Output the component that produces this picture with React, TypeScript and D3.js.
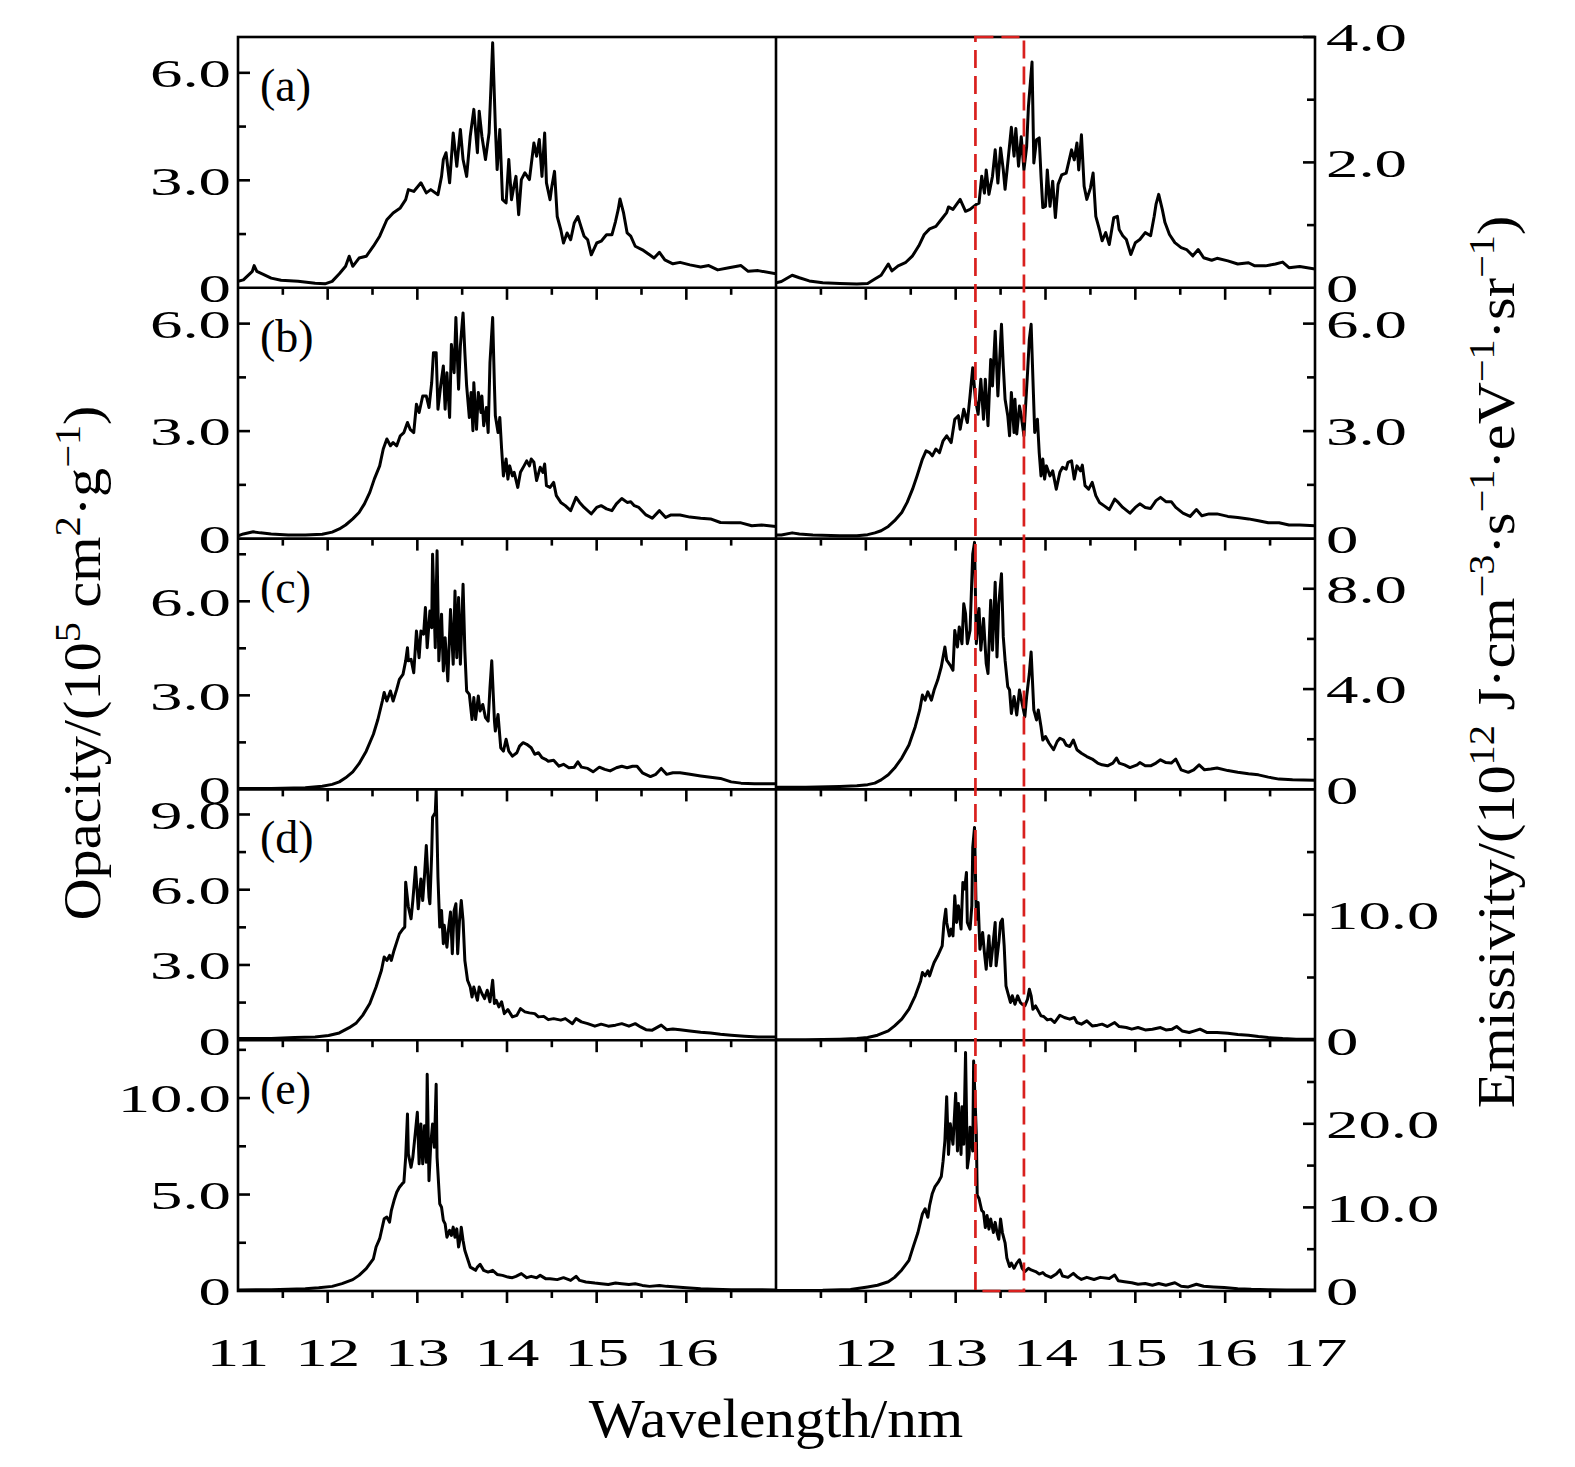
import React from "react";
import * as d3 from "d3";

// wavelength (nm) and opacity (1e5 cm^2/g), left column
const waveOpA = [11.00,11.06,11.16,11.18,11.21,11.27,11.37,11.48,11.67,11.86,11.97,12.05,12.13,12.20,12.24,12.28,12.35,12.43,12.51,12.58,12.66,12.73,12.81,12.87,12.90,12.96,13.04,13.10,13.15,13.23,13.27,13.29,13.32,13.36,13.40,13.44,13.48,13.51,13.55,13.59,13.63,13.67,13.69,13.72,13.76,13.80,13.82,13.84,13.87,13.89,13.92,13.95,13.99,14.02,14.05,14.07,14.10,14.13,14.16,14.20,14.25,14.30,14.33,14.36,14.39,14.42,14.44,14.48,14.50,14.53,14.56,14.60,14.63,14.67,14.71,14.75,14.79,14.83,14.86,14.90,14.94,15.00,15.05,15.11,15.17,15.21,15.24,15.26,15.30,15.34,15.38,15.43,15.51,15.59,15.64,15.70,15.76,15.85,15.93,16.04,16.16,16.25,16.35,16.46,16.61,16.69,16.80,17.00];
const opacityA = [0.18,0.22,0.46,0.62,0.46,0.39,0.27,0.21,0.18,0.13,0.11,0.18,0.39,0.60,0.88,0.60,0.83,0.88,1.16,1.44,1.90,2.09,2.23,2.46,2.74,2.69,2.93,2.65,2.74,2.60,3.11,3.58,3.77,2.93,4.32,3.39,4.42,3.58,3.11,4.23,4.98,3.77,4.93,4.23,3.58,4.32,5.54,6.84,4.51,3.30,4.42,2.46,2.37,3.58,2.46,2.74,3.11,2.04,3.02,3.21,3.02,4.04,3.67,4.14,3.11,4.32,2.93,2.46,2.83,3.25,1.99,1.62,1.25,1.53,1.34,1.81,1.99,1.67,1.44,1.34,0.92,1.25,1.30,1.48,1.48,1.85,2.18,2.48,2.09,1.53,1.44,1.16,1.06,0.92,0.83,0.99,0.78,0.67,0.71,0.64,0.58,0.62,0.50,0.55,0.62,0.46,0.48,0.39];

const waveOpB = [11.00,11.06,11.17,11.25,11.37,11.56,11.75,11.94,12.05,12.13,12.20,12.28,12.35,12.41,12.47,12.52,12.58,12.62,12.66,12.70,12.73,12.77,12.81,12.85,12.89,12.92,12.96,12.99,13.02,13.06,13.10,13.13,13.16,13.18,13.21,13.23,13.26,13.29,13.31,13.33,13.36,13.38,13.41,13.43,13.46,13.48,13.51,13.53,13.55,13.58,13.60,13.62,13.63,13.66,13.68,13.71,13.72,13.74,13.77,13.79,13.81,13.84,13.86,13.87,13.90,13.92,13.94,13.96,13.99,14.01,14.03,14.06,14.08,14.12,14.15,14.19,14.22,14.25,14.27,14.30,14.33,14.37,14.40,14.42,14.44,14.48,14.52,14.55,14.60,14.65,14.71,14.77,14.81,14.86,14.94,15.00,15.05,15.11,15.17,15.22,15.28,15.34,15.38,15.42,15.47,15.55,15.62,15.70,15.77,15.83,15.93,16.04,16.16,16.27,16.38,16.50,16.61,16.73,16.84,17.00];
const opacityB = [0.08,0.13,0.19,0.16,0.13,0.10,0.10,0.12,0.18,0.27,0.38,0.55,0.73,0.97,1.29,1.66,2.03,2.50,2.78,2.59,2.68,2.59,2.87,2.96,3.24,3.05,2.96,3.75,3.52,3.98,3.98,3.66,4.35,5.19,5.19,3.61,4.26,4.82,3.61,4.63,3.38,5.42,4.63,6.17,4.17,5.38,6.30,5.19,4.26,3.38,4.08,3.01,4.35,3.05,4.08,3.52,3.98,3.15,3.66,2.96,4.91,6.17,4.26,3.43,2.96,3.38,2.50,1.75,2.22,1.66,2.03,1.75,1.85,1.43,1.85,2.03,2.17,2.03,2.22,2.13,1.62,1.99,1.85,2.08,1.48,1.43,1.57,1.20,1.01,0.92,0.78,1.15,1.01,0.87,0.69,0.87,0.92,0.83,0.78,0.97,1.12,1.01,1.03,0.92,0.87,0.66,0.57,0.78,0.59,0.66,0.66,0.60,0.57,0.55,0.45,0.44,0.44,0.36,0.38,0.34];

const waveOpC = [11.00,11.37,11.75,11.94,12.05,12.13,12.20,12.28,12.35,12.43,12.51,12.56,12.61,12.63,12.66,12.70,12.73,12.77,12.80,12.84,12.87,12.89,12.90,12.93,12.96,12.99,13.02,13.04,13.07,13.09,13.11,13.14,13.16,13.17,13.20,13.22,13.24,13.27,13.29,13.31,13.34,13.37,13.40,13.42,13.44,13.46,13.48,13.51,13.53,13.55,13.58,13.61,13.63,13.65,13.68,13.70,13.73,13.76,13.79,13.81,13.83,13.86,13.87,13.90,13.93,13.96,13.99,14.02,14.06,14.11,14.14,14.18,14.22,14.27,14.31,14.35,14.39,14.43,14.46,14.52,14.58,14.63,14.69,14.75,14.79,14.83,14.90,14.96,15.03,15.09,15.15,15.22,15.28,15.34,15.40,15.45,15.51,15.60,15.66,15.72,15.78,15.85,15.93,16.04,16.16,16.27,16.38,16.50,16.61,16.76,17.00];
const opacityC = [0.03,0.03,0.05,0.10,0.16,0.24,0.37,0.56,0.82,1.22,1.76,2.23,2.82,3.09,2.82,3.14,2.82,3.19,3.51,3.67,4.10,4.52,4.10,4.15,3.72,5.05,4.20,5.05,4.95,5.80,4.52,5.69,5.16,7.50,4.52,7.61,4.10,5.59,3.78,4.84,3.46,5.74,3.99,6.33,4.20,6.12,3.99,6.54,4.41,3.14,3.03,2.23,2.93,2.23,2.98,2.50,2.71,2.29,2.18,3.24,4.10,2.18,1.86,2.39,1.33,1.22,1.60,1.22,1.06,1.17,1.38,1.49,1.44,1.33,1.12,1.17,1.01,0.96,0.90,0.93,0.74,0.80,0.69,0.71,0.88,0.71,0.67,0.56,0.71,0.64,0.59,0.69,0.74,0.69,0.74,0.74,0.53,0.41,0.48,0.67,0.48,0.53,0.53,0.48,0.43,0.39,0.35,0.24,0.20,0.18,0.18];

const waveOpD = [11.00,11.37,11.63,11.86,12.01,12.13,12.24,12.32,12.39,12.47,12.54,12.60,12.63,12.66,12.69,12.71,12.74,12.77,12.80,12.84,12.86,12.87,12.90,12.93,12.95,12.98,13.01,13.04,13.06,13.08,13.10,13.13,13.14,13.16,13.17,13.20,13.21,13.23,13.25,13.27,13.29,13.30,13.33,13.35,13.37,13.39,13.41,13.43,13.45,13.47,13.49,13.51,13.53,13.56,13.59,13.61,13.63,13.67,13.69,13.72,13.75,13.78,13.81,13.84,13.86,13.88,13.91,13.94,13.97,14.01,14.06,14.11,14.15,14.20,14.25,14.31,14.35,14.41,14.46,14.52,14.60,14.65,14.73,14.77,14.83,14.90,14.98,15.05,15.13,15.21,15.28,15.36,15.43,15.49,15.55,15.62,15.72,15.78,15.85,15.93,16.04,16.16,16.27,16.38,16.50,16.65,16.80,17.00];
const opacityD = [0.07,0.07,0.11,0.13,0.19,0.29,0.50,0.69,0.99,1.46,2.12,2.79,3.32,3.18,3.38,3.18,3.58,3.91,4.24,4.44,4.51,6.30,5.31,4.84,5.57,6.90,5.24,6.43,5.57,6.56,7.76,5.70,5.44,7.43,8.89,9.08,9.95,6.50,4.51,5.17,3.85,4.58,3.71,4.51,5.11,3.45,5.17,5.44,3.45,4.77,5.57,4.77,3.18,2.39,2.12,1.72,2.12,1.59,2.12,1.86,1.66,1.99,1.53,2.39,1.46,1.59,1.33,1.53,1.06,1.22,0.93,0.99,1.26,1.13,1.09,1.06,0.93,0.95,0.82,0.86,0.80,0.86,0.66,0.86,0.73,0.66,0.56,0.64,0.56,0.60,0.66,0.56,0.66,0.53,0.42,0.40,0.60,0.42,0.45,0.42,0.37,0.32,0.29,0.24,0.20,0.16,0.13,0.13];

const waveOpE = [11.00,11.37,11.75,11.90,12.05,12.16,12.28,12.35,12.43,12.51,12.54,12.58,12.63,12.66,12.69,12.71,12.74,12.77,12.80,12.83,12.85,12.87,12.89,12.90,12.93,12.95,12.98,13.00,13.02,13.04,13.06,13.08,13.10,13.11,13.13,13.15,13.17,13.19,13.21,13.22,13.25,13.27,13.29,13.31,13.33,13.36,13.38,13.40,13.42,13.44,13.46,13.48,13.49,13.51,13.53,13.56,13.59,13.62,13.65,13.67,13.70,13.74,13.79,13.84,13.89,13.95,14.01,14.06,14.10,14.16,14.22,14.27,14.33,14.37,14.43,14.48,14.56,14.63,14.71,14.77,14.81,14.88,14.98,15.05,15.13,15.21,15.28,15.36,15.43,15.51,15.59,15.70,15.78,15.89,16.00,16.16,16.31,16.50,16.69,17.00];
const opacityE = [0.05,0.07,0.12,0.17,0.24,0.38,0.59,0.81,1.16,1.67,2.28,2.71,3.74,3.83,3.57,4.17,4.69,5.12,5.38,5.55,5.64,6.93,9.17,7.10,6.41,6.93,8.31,9.26,6.59,8.66,6.59,8.57,6.67,11.24,5.72,7.62,8.66,7.45,10.72,6.93,4.52,4.34,3.66,3.48,2.79,3.14,2.88,3.31,2.79,3.22,2.28,2.79,3.31,2.62,2.10,1.67,1.24,1.16,1.07,1.24,1.38,1.07,0.98,1.07,0.86,0.81,0.72,0.69,0.76,0.90,0.69,0.76,0.69,0.81,0.64,0.64,0.59,0.69,0.55,0.76,0.55,0.47,0.41,0.38,0.34,0.41,0.38,0.34,0.38,0.29,0.24,0.29,0.24,0.21,0.17,0.12,0.09,0.07,0.07,0.05];

// wavelength (nm) and emissivity (1e12 J/cm^3/s/eV/sr), right column
const waveEmA = [11.00,11.06,11.18,11.26,11.37,11.52,11.71,11.90,12.02,12.10,12.17,12.25,12.29,12.36,12.44,12.52,12.59,12.65,12.71,12.78,12.84,12.90,12.92,12.97,13.05,13.11,13.16,13.23,13.26,13.29,13.32,13.34,13.37,13.41,13.44,13.47,13.50,13.53,13.55,13.58,13.62,13.65,13.67,13.70,13.73,13.76,13.79,13.81,13.85,13.87,13.90,13.93,13.95,13.97,14.00,14.02,14.05,14.08,14.11,14.14,14.18,14.23,14.29,14.32,14.35,14.37,14.40,14.43,14.46,14.50,14.53,14.56,14.60,14.63,14.67,14.71,14.76,14.80,14.82,14.86,14.90,14.95,15.00,15.05,15.11,15.17,15.21,15.23,15.26,15.30,15.33,15.38,15.44,15.51,15.57,15.64,15.70,15.76,15.85,15.91,16.03,16.14,16.26,16.33,16.45,16.56,16.64,16.71,16.83,17.00];
const emissA = [0.08,0.10,0.20,0.16,0.11,0.08,0.07,0.06,0.07,0.14,0.20,0.38,0.27,0.35,0.40,0.51,0.67,0.85,0.94,0.98,1.09,1.20,1.29,1.25,1.41,1.22,1.25,1.33,1.35,1.78,1.51,1.88,1.49,1.78,2.20,1.67,2.23,1.88,1.57,1.99,2.56,2.10,2.54,1.94,2.41,1.88,2.25,2.89,3.60,1.99,2.36,2.39,1.78,1.28,1.30,1.88,1.30,1.70,1.12,1.65,1.80,1.83,2.20,2.04,2.31,1.88,2.44,1.62,1.41,1.59,1.83,1.14,0.93,0.75,0.88,0.69,1.12,1.14,0.93,0.83,0.77,0.53,0.72,0.77,0.88,0.83,1.14,1.33,1.49,1.25,1.04,0.85,0.72,0.64,0.61,0.51,0.61,0.48,0.44,0.47,0.43,0.38,0.40,0.35,0.35,0.38,0.41,0.32,0.34,0.30];

const waveEmB = [11.00,11.06,11.18,11.26,11.41,11.71,11.90,12.02,12.10,12.17,12.25,12.32,12.40,12.46,12.52,12.57,12.63,12.67,12.71,12.74,12.78,12.82,12.86,12.90,12.95,12.99,13.03,13.05,13.09,13.13,13.16,13.19,13.22,13.25,13.28,13.31,13.33,13.36,13.39,13.41,13.44,13.47,13.49,13.51,13.53,13.55,13.58,13.60,13.62,13.65,13.66,13.68,13.71,13.73,13.76,13.77,13.80,13.82,13.84,13.86,13.88,13.91,13.93,13.95,13.97,13.99,14.01,14.05,14.08,14.12,14.16,14.19,14.23,14.25,14.29,14.32,14.35,14.39,14.41,14.44,14.48,14.52,14.56,14.60,14.65,14.71,14.77,14.81,14.86,14.94,15.00,15.05,15.11,15.17,15.23,15.28,15.34,15.40,15.45,15.53,15.61,15.68,15.74,15.82,15.91,16.03,16.14,16.26,16.37,16.48,16.60,16.71,16.83,17.00];
const emissB = [0.10,0.10,0.16,0.13,0.10,0.08,0.08,0.11,0.16,0.22,0.34,0.50,0.73,1.01,1.38,1.75,2.22,2.45,2.40,2.31,2.50,2.40,2.73,2.87,2.68,3.33,3.43,3.05,3.61,3.24,3.98,4.77,3.89,3.47,4.45,3.33,4.45,3.15,5.00,4.26,5.79,3.98,5.00,5.98,4.82,3.89,3.43,2.87,4.08,2.96,3.89,2.92,3.70,3.43,2.87,3.33,4.63,5.56,5.98,4.45,2.96,3.33,2.40,1.75,2.22,1.66,2.03,1.75,1.89,1.38,1.85,1.99,1.94,2.13,2.17,1.66,2.03,1.89,2.05,1.48,1.38,1.57,1.20,1.01,0.92,0.81,1.10,1.01,0.87,0.71,0.87,0.97,0.87,0.84,1.06,1.15,1.03,1.03,0.87,0.71,0.62,0.81,0.64,0.69,0.69,0.62,0.59,0.55,0.50,0.44,0.44,0.38,0.38,0.36];

const waveEmC = [11.00,11.33,11.71,11.90,12.02,12.10,12.17,12.25,12.32,12.40,12.48,12.55,12.60,12.63,12.66,12.69,12.73,12.76,12.80,12.84,12.88,12.90,12.94,12.97,12.99,13.02,13.04,13.07,13.09,13.11,13.13,13.16,13.19,13.21,13.23,13.26,13.28,13.31,13.34,13.36,13.39,13.41,13.44,13.46,13.48,13.51,13.53,13.55,13.58,13.60,13.62,13.65,13.68,13.71,13.74,13.77,13.79,13.82,13.84,13.87,13.90,13.92,13.95,13.97,14.00,14.04,14.09,14.13,14.16,14.20,14.23,14.27,14.31,14.35,14.40,14.46,14.52,14.58,14.63,14.69,14.75,14.79,14.82,14.88,14.94,15.02,15.05,15.11,15.17,15.23,15.28,15.34,15.40,15.45,15.51,15.59,15.65,15.71,15.77,15.84,15.91,16.03,16.14,16.26,16.37,16.48,16.60,16.75,17.00];
const emissC = [0.09,0.09,0.12,0.15,0.19,0.25,0.38,0.58,0.85,1.25,1.77,2.50,3.17,3.76,3.56,3.89,3.56,3.96,4.36,4.89,5.68,5.15,4.95,4.75,6.34,5.68,6.48,5.81,7.40,7.01,5.81,6.34,9.39,9.85,5.81,7.21,5.55,6.81,5.02,4.62,7.54,5.55,8.26,5.28,7.40,8.60,6.08,5.15,4.09,3.96,3.03,3.70,2.97,3.96,3.43,2.90,3.70,4.62,5.48,3.17,2.77,3.17,2.50,1.97,2.11,1.84,1.58,1.91,2.04,1.97,1.77,1.71,1.97,1.58,1.44,1.31,1.21,1.05,0.98,0.94,1.05,1.25,1.05,0.98,0.87,0.98,1.07,0.94,0.94,1.05,1.18,1.07,1.05,1.21,0.78,0.68,0.78,0.98,0.78,0.81,0.85,0.75,0.68,0.62,0.58,0.49,0.41,0.38,0.36];

const waveEmD = [11.00,11.33,11.71,11.90,12.02,12.13,12.25,12.32,12.40,12.48,12.55,12.61,12.63,12.66,12.69,12.71,12.74,12.76,12.80,12.85,12.87,12.89,12.90,12.93,12.95,12.97,12.99,13.01,13.03,13.06,13.08,13.10,13.12,13.13,13.16,13.18,13.19,13.21,13.23,13.25,13.27,13.30,13.32,13.34,13.37,13.39,13.41,13.44,13.45,13.48,13.50,13.52,13.54,13.56,13.58,13.61,13.63,13.66,13.69,13.72,13.74,13.77,13.80,13.82,13.84,13.86,13.89,13.92,13.95,13.98,14.02,14.06,14.10,14.16,14.21,14.27,14.32,14.35,14.40,14.46,14.52,14.58,14.63,14.69,14.77,14.82,14.90,14.96,15.03,15.11,15.19,15.28,15.34,15.41,15.46,15.52,15.60,15.66,15.72,15.80,15.91,16.03,16.14,16.26,16.37,16.48,16.64,16.79,17.00];
const emissD = [0.03,0.03,0.08,0.13,0.21,0.40,0.74,1.14,1.68,2.47,3.54,4.73,5.40,5.13,5.53,5.13,5.80,6.20,6.73,7.53,9.39,10.45,9.39,8.32,8.86,8.32,11.52,9.39,10.72,8.86,12.58,12.05,13.38,9.39,8.86,10.72,15.37,16.97,9.65,10.98,7.26,8.59,6.99,5.66,8.32,5.93,7.26,9.39,5.93,7.79,9.39,9.65,7.53,4.34,3.80,3.01,3.54,2.87,3.54,3.01,2.87,2.74,3.27,4.07,3.54,2.47,2.74,2.34,1.94,1.89,1.62,1.68,1.41,1.99,1.81,1.68,1.81,1.41,1.28,1.54,1.14,1.20,1.28,1.09,1.41,1.09,1.01,0.88,1.01,0.82,0.88,1.01,0.82,0.88,1.09,0.74,0.61,0.74,0.88,0.61,0.61,0.56,0.45,0.40,0.29,0.21,0.13,0.08,0.08];

const waveEmE = [11.00,11.52,11.83,12.02,12.13,12.25,12.32,12.40,12.48,12.53,12.58,12.63,12.66,12.69,12.71,12.74,12.77,12.81,12.84,12.86,12.88,12.90,12.92,12.94,12.97,13.00,13.02,13.03,13.06,13.07,13.09,13.11,13.13,13.15,13.16,13.19,13.20,13.23,13.24,13.26,13.29,13.31,13.33,13.35,13.37,13.39,13.42,13.44,13.46,13.48,13.50,13.52,13.55,13.57,13.60,13.62,13.65,13.68,13.71,13.74,13.77,13.81,13.84,13.89,13.93,13.97,14.00,14.06,14.12,14.16,14.19,14.25,14.31,14.35,14.40,14.46,14.54,14.61,14.71,14.77,14.81,14.88,14.96,15.03,15.11,15.19,15.26,15.34,15.44,15.51,15.59,15.68,15.76,15.87,15.99,16.14,16.29,16.48,16.68,17.00];
const emissE = [0.05,0.08,0.18,0.49,0.69,1.10,1.63,2.52,3.66,5.37,7.00,9.23,9.84,8.82,10.24,11.67,12.48,13.09,13.70,15.53,17.97,23.25,16.34,20.00,17.56,23.66,16.75,22.44,16.34,22.03,17.56,28.54,14.72,16.34,19.59,16.75,27.52,18.78,11.46,11.06,9.63,9.43,7.60,9.02,7.40,8.62,6.99,8.21,6.99,6.18,8.62,6.99,5.77,3.94,2.93,3.33,2.72,3.33,3.74,2.72,2.32,2.72,2.52,2.32,2.03,2.20,1.91,1.63,2.03,2.52,1.79,1.63,2.11,1.71,1.38,1.63,1.38,1.63,1.50,1.91,1.22,1.10,0.98,0.81,0.89,0.69,0.89,0.69,0.98,0.57,0.49,0.81,0.57,0.49,0.41,0.28,0.20,0.16,0.12,0.12];

const panelLetters = ["a", "b", "c", "d", "e"];
const opacityMax = [7, 7, 8, 10, 13];
const emissMax = [4, 7, 10, 20, 30];
const opacityLabels = [[0, 3, 6], [0, 3, 6], [0, 3, 6], [0, 3, 6, 9], [0, 5, 10]];
const opacityMinor = [[1.5, 4.5], [1.5, 4.5], [1.5, 4.5, 7.5], [1.5, 4.5, 7.5], [2.5, 7.5, 12.5]];
const emissLabels = [[0, 2, 4], [0, 3, 6], [0, 4, 8], [0, 10], [0, 10, 20]];
const emissMinor = [[1, 3], [1.5, 4.5], [2, 6], [5, 15], [5, 15, 25]];
const leftXLabels = [11, 12, 13, 14, 15, 16];
const rightXLabels = [12, 13, 14, 15, 16, 17];
const xMajor = [12, 13, 14, 15, 16];
const xMinor = [11.5, 12.5, 13.5, 14.5, 15.5, 16.5];
const boxRange = [13.22, 13.76];

const W = 1575;
const H = 1467;
const X0 = 238;
const XM = 776;
const X1 = 1315;
const TOP = 37;
const BOTTOM = 1291;
const ROW_H = (BOTTOM - TOP) / 5;
const FONT = "'Liberation Serif', 'DejaVu Serif', serif";
const TICK_FS = 41;
const TICK_SX = 1.58;

const fmt = (v: number) => (v === 0 ? "0" : d3.format(".1f")(v));

const App: React.FC = () => {
  const xL = d3.scaleLinear().domain([11, 17]).range([X0, XM]);
  const xR = d3.scaleLinear().domain([11, 17]).range([XM, X1]);

  const opacitySeries = [
    d3.zip(waveOpA, opacityA),
    d3.zip(waveOpB, opacityB),
    d3.zip(waveOpC, opacityC),
    d3.zip(waveOpD, opacityD),
    d3.zip(waveOpE, opacityE),
  ];
  const emissSeries = [
    d3.zip(waveEmA, emissA),
    d3.zip(waveEmB, emissB),
    d3.zip(waveEmC, emissC),
    d3.zip(waveEmD, emissD),
    d3.zip(waveEmE, emissE),
  ];

  const rows = panelLetters.map((letter, i) => {
    const y0 = TOP + i * ROW_H;
    const y1 = y0 + ROW_H;
    const yL = d3.scaleLinear().domain([0, opacityMax[i]]).range([y1, y0]);
    const yR = d3.scaleLinear().domain([0, emissMax[i]]).range([y1, y0]);
    const lineL = d3
      .line<number[]>()
      .x((d) => xL(d[0]))
      .y((d) => yL(d[1]));
    const lineR = d3
      .line<number[]>()
      .x((d) => xR(d[0]))
      .y((d) => yR(d[1]));
    return { letter, i, y0, y1, yL, yR, pathL: lineL(opacitySeries[i]) || "", pathR: lineR(emissSeries[i]) || "" };
  });

  const tickText = (x: number, y: number, anchor: string, label: string, key: string) => (
    <text
      key={key}
      transform={`translate(${x},${y}) scale(${TICK_SX},1)`}
      textAnchor={anchor}
      dy="0.35em"
      fontSize={TICK_FS}
      fontFamily={FONT}
      fill="#000"
    >
      {label}
    </text>
  );

  return (
    <svg
      width={W}
      height={H}
      viewBox={`0 0 ${W} ${H}`}
      style={{ position: "absolute", left: 0, top: 0, background: "#fff" }}
    >
      <defs>
        {rows.map((r) => (
          <React.Fragment key={`clip${r.i}`}>
            <clipPath id={`clipL${r.i}`}>
              <rect x={X0} y={r.y0} width={XM - X0} height={ROW_H} />
            </clipPath>
            <clipPath id={`clipR${r.i}`}>
              <rect x={XM} y={r.y0} width={X1 - XM} height={ROW_H} />
            </clipPath>
          </React.Fragment>
        ))}
      </defs>

      {/* spectra */}
      {rows.map((r) => (
        <g key={`curves${r.i}`} fill="none" stroke="#000" strokeWidth={3} strokeLinejoin="round">
          <path d={r.pathL} clipPath={`url(#clipL${r.i})`} />
          <path d={r.pathR} clipPath={`url(#clipR${r.i})`} />
        </g>
      ))}

      {/* frames and ticks */}
      <g stroke="#000" strokeWidth={2.6} fill="none">
        <rect x={X0} y={TOP} width={X1 - X0} height={BOTTOM - TOP} />
        <line x1={XM} x2={XM} y1={TOP} y2={BOTTOM} />
        {rows.map((r) => (
          <g key={`ticks${r.i}`}>
            {r.i < 4 && <line x1={X0} x2={X1} y1={r.y1} y2={r.y1} />}
            {xMajor.map((v) => (
              <React.Fragment key={`xM${v}`}>
                <line x1={xL(v)} x2={xL(v)} y1={r.y1} y2={r.y1 + 12} />
                <line x1={xR(v)} x2={xR(v)} y1={r.y1} y2={r.y1 + 12} />
              </React.Fragment>
            ))}
            {xMinor.map((v) => (
              <React.Fragment key={`xm${v}`}>
                <line x1={xL(v)} x2={xL(v)} y1={r.y1} y2={r.y1 + 7} />
                <line x1={xR(v)} x2={xR(v)} y1={r.y1} y2={r.y1 + 7} />
              </React.Fragment>
            ))}
            {opacityLabels[r.i].filter((v) => v > 0).map((v) => (
              <line key={`lM${v}`} x1={X0} x2={X0 + 12} y1={r.yL(v)} y2={r.yL(v)} />
            ))}
            {opacityMinor[r.i].map((v) => (
              <line key={`lm${v}`} x1={X0} x2={X0 + 8} y1={r.yL(v)} y2={r.yL(v)} />
            ))}
            {emissLabels[r.i].filter((v) => v > 0).map((v) => (
              <line key={`rM${v}`} x1={X1 - 12} x2={X1} y1={r.yR(v)} y2={r.yR(v)} />
            ))}
            {emissMinor[r.i].map((v) => (
              <line key={`rm${v}`} x1={X1 - 8} x2={X1} y1={r.yR(v)} y2={r.yR(v)} />
            ))}
          </g>
        ))}
      </g>

      {/* highlighted wavelength band */}
      <rect
        x={xR(boxRange[0])}
        y={TOP}
        width={xR(boxRange[1]) - xR(boxRange[0])}
        height={BOTTOM - TOP}
        fill="none"
        stroke="#d9201e"
        strokeWidth={2.7}
        strokeDasharray="18,8"
      />

      {/* tick labels */}
      {rows.map((r) => (
        <g key={`labels${r.i}`}>
          {opacityLabels[r.i].map((v) => tickText(231, r.yL(v), "end", fmt(v), `ll${v}`))}
          {emissLabels[r.i].map((v) => tickText(1326, r.yR(v), "start", fmt(v), `rl${v}`))}
          <text x={260} y={r.y0 + 64} fontSize={46} fontFamily={FONT}>
            ({r.letter})
          </text>
        </g>
      ))}
      {leftXLabels.map((v) => tickText(xL(v), 1352, "middle", String(v), `bl${v}`))}
      {rightXLabels.map((v) => tickText(xR(v), 1352, "middle", String(v), `br${v}`))}

      {/* axis titles */}
      <text
        transform={`translate(776,1437) scale(1.1,1)`}
        textAnchor="middle"
        fontSize={54}
        fontFamily={FONT}
      >
        Wavelength/nm
      </text>
      <text
        transform={`translate(100,663) rotate(-90) scale(1.12,1)`}
        textAnchor="middle"
        fontSize={52}
        fontFamily={FONT}
      >
        Opacity/(10
        <tspan dy={-20} fontSize={36}>5</tspan>
        <tspan dy={20}> cm</tspan>
        <tspan dy={-20} fontSize={36}>2</tspan>
        <tspan dy={20}>·g</tspan>
        <tspan dy={-20} fontSize={36}>−1</tspan>
        <tspan dy={20}>)</tspan>
      </text>
      <text
        transform={`translate(1514,662) rotate(-90) scale(1.12,1)`}
        textAnchor="middle"
        fontSize={52}
        fontFamily={FONT}
      >
        Emissivity/(10
        <tspan dy={-20} fontSize={36}>12</tspan>
        <tspan dy={20}> J·cm</tspan>
        <tspan dy={-20} fontSize={36}>−3</tspan>
        <tspan dy={20}>·s</tspan>
        <tspan dy={-20} fontSize={36}>−1</tspan>
        <tspan dy={20}>·eV</tspan>
        <tspan dy={-20} fontSize={36}>−1</tspan>
        <tspan dy={20}>·sr</tspan>
        <tspan dy={-20} fontSize={36}>−1</tspan>
        <tspan dy={20}>)</tspan>
      </text>
    </svg>
  );
};

export default App;
